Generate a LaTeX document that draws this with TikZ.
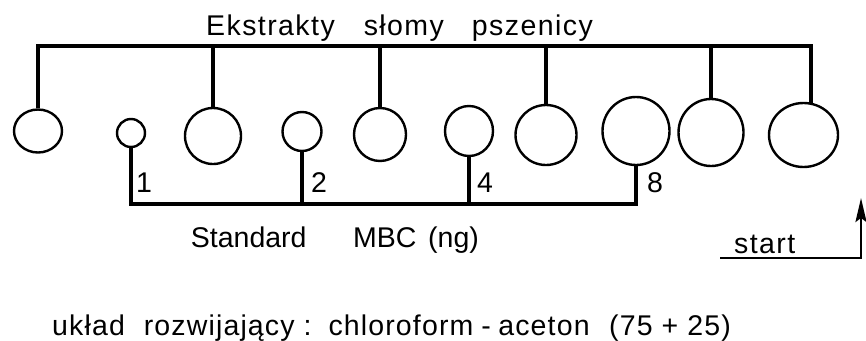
\documentclass[tikz,border=0pt]{standalone}
\usepackage{fontspec}
\setmainfont{Liberation Sans}
\usetikzlibrary{shapes.geometric,arrows.meta}

\begin{document}
\begin{tikzpicture}[
  x=1pt, y=-1pt,
  font=\fontsize{28.5}{32}\selectfont,
  >={Stealth[length=24pt, width=11pt, inset=4pt]},
  spot/.style 2 args={ellipse, draw, line width=2.4pt, inner sep=0pt,
                      minimum width=#1pt, minimum height=#2pt},
  stem/.style={line width=3.2pt},
  lbl/.style={anchor=base west, inner sep=0pt},
  tracked/.style={font={\fontsize{28.5}{32}\selectfont\addfontfeatures{LetterSpace=#1}}},
]
\useasboundingbox (0,0) rectangle (866,340);

% rails for the two rows of spots
\coordinate (top)  at (0,46);
\coordinate (base) at (0,204);

% spots on the plate, left to right
\node[spot={48}{43}] (c1)  at (38,131)    {};
\node[spot={28}{28}] (c2)  at (131,133)   {};
\node[spot={56}{56}] (c3)  at (213,136)   {};
\node[spot={39}{39}] (c4)  at (302,131.5) {};
\node[spot={52}{53}] (c5)  at (380,134.5) {};
\node[spot={48}{50}] (c6)  at (469,131)   {};
\node[spot={61}{60}] (c7)  at (546,135)   {};
\node[spot={67}{68}] (c8)  at (636,131)   {};
\node[spot={65}{67}] (c9)  at (711,132.5) {};
\node[spot={69}{64}] (c10) at (803.5,135) {};

% straw extracts
\node[lbl, tracked=5] (title) at (206,35) {Ekstrakty\hspace{29pt}słomy\hspace{28pt}pszenicy};
\draw[stem] (c1.north) -- (c1.north |- top) -| (c10.77);
\draw[stem] (c3.north) -- (c3.north |- top);
\draw[stem] (c5.north) -- (c5.north |- top);
\draw[stem] (c7.north) -- (c7.north |- top);
\draw[stem] (c9.north) -- (c9.north |- top);

% MBC standards
\draw[stem] (c2.south) -- (c2.south |- base) -| (c8.south);
\draw[stem] (c4.south) -- (c4.south |- base);
\draw[stem] (c6.south) -- (c6.south |- base);
\node[lbl] (n1) at (136,192) {1};
\node[lbl] (n2) at (311,192) {2};
\node[lbl] (n4) at (477,192) {4};
\node[lbl] (n8) at (647,192) {8};
\node[lbl] (std) at (190.7,247) {Standard\hspace{46.6pt}MBC\hspace{11.7pt}(ng)};

% start line and direction of development
\coordinate (s0) at (720,258);
\coordinate (s1) at (861,258);
\coordinate (s2) at (861,198);
\node[lbl, tracked=5] (start) at (734,253) {start};
\draw[stem, line width=2.6pt, ->] (s0) -- (s1) -- (s2);

\node[lbl, tracked=4] (eluent) at (52,335) {układ\hspace{19pt}rozwijający\hspace{9pt}:\hspace{17pt}chloroform\hspace{8pt}-\hspace{7.5pt}aceton\hspace{19.5pt}(75 + 25)};

\end{tikzpicture}
\end{document}
